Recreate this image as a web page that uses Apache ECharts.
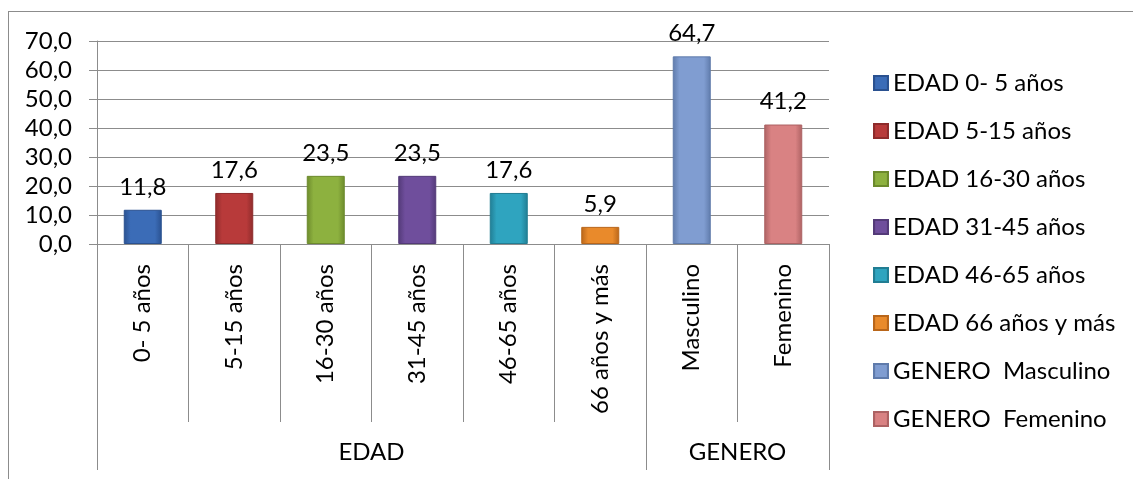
<!DOCTYPE html>
<html>
<head>
<meta charset="utf-8">
<script src="https://cdn.jsdelivr.net/npm/echarts@6/dist/echarts.min.js"></script>
<style>
  html, body { margin: 0; padding: 0; overflow: hidden; background: #fff; }
  #frame { position: absolute; left: 8px; top: 11px; width: 1200px; height: 600px; border: 1px solid #8c8c8c; }
  #main { position: absolute; left: 0; top: 0; width: 1133px; height: 479px; }
</style>
</head>
<body>
<div id="frame"></div>
<div id="main"></div>
<script>
  // categorias del eje y grupos
  var categorias = ['0- 5 años', '5-15 años', '16-30 años', '31-45 años', '46-65 años', '66 años y más', 'Masculino', 'Femenino'];
  var leyenda = ['EDAD 0- 5 años', 'EDAD 5-15 años', 'EDAD 16-30 años', 'EDAD 31-45 años', 'EDAD 46-65 años', 'EDAD 66 años y más', 'GENERO  Masculino', 'GENERO  Femenino'];
  var valores = [11.8, 17.6, 23.5, 23.5, 17.6, 5.9, 64.7, 41.2];
  var grupos = ['EDAD', 'GENERO'];
  var limitesGrupo = [0, 6, 8];   // en unidades de categoria
  var centrosGrupo = [3, 7];
  var colores = ['#3b6cb7', '#b83a3a', '#8db13f', '#6f4e9c', '#2fa4bf', '#e98a2b', '#809dd1', '#d98283'];
  var bordes  = ['#2a5190', '#8e2b2b', '#6c8a2c', '#533a78', '#217d93', '#b9661a', '#5f7bab', '#ad6263'];

  var FONT = 'Lato';
  var myChart = echarts.init(document.getElementById('main'));

  function coma(v) { return v.toFixed(1).replace('.', ','); }

  var series = [];
  for (let i = 0; i < valores.length; i++) {
    let datos = valores.map(function (v, j) { return j === i ? v : '-'; });
    series.push({
      name: leyenda[i],
      type: 'bar',
      stack: 'total',
      barWidth: 38,
      data: datos,
      itemStyle: {
        color: new echarts.graphic.LinearGradient(0, 0, 1, 0, [
          { offset: 0, color: bordes[i] },
          { offset: 0.18, color: colores[i] },
          { offset: 0.82, color: colores[i] },
          { offset: 1, color: bordes[i] }
        ]),
        borderColor: bordes[i],
        borderWidth: 1
      },
      label: {
        show: true,
        position: 'top',
        distance: 11,
        color: '#000',
        fontFamily: FONT,
        fontSize: 24,
        formatter: function (p) { return coma(p.value); }
      }
    });
  }

  var option = {
    animation: false,
    textStyle: { fontFamily: FONT },
    grid: { left: 97, right: 304, top: 41, bottom: 235 },
    legend: {
      orient: 'vertical',
      left: 873,
      top: 70,
      padding: 0,
      itemWidth: 14,
      itemHeight: 14,
      itemGap: 22,
      icon: 'rect',
      textStyle: { fontFamily: FONT, fontSize: 24, lineHeight: 26, color: '#000' },
      data: leyenda
    },
    xAxis: [
      {
        type: 'category',
        data: categorias,
        axisLine: { lineStyle: { color: '#8c8c8c' } },
        axisTick: { show: true, interval: 0, length: 178, lineStyle: { color: '#8c8c8c' } },
        axisLabel: { interval: 0, rotate: 90, margin: 20, color: '#000', fontFamily: FONT, fontSize: 24 }
      },
      {
        type: 'value',
        position: 'bottom',
        min: 0,
        max: 8,
        axisLine: { show: false },
        splitLine: { show: false },
        axisTick: { show: true, length: 226, customValues: limitesGrupo, lineStyle: { color: '#8c8c8c' } },
        axisLabel: {
          customValues: centrosGrupo,
          margin: 196,
          color: '#000',
          fontFamily: FONT,
          fontSize: 24,
          formatter: function (v) { return grupos[centrosGrupo.indexOf(v)]; }
        }
      }
    ],
    yAxis: {
      type: 'value',
      min: 0,
      max: 70,
      interval: 10,
      axisLine: { show: true, lineStyle: { color: '#8c8c8c' } },
      axisTick: { show: true, length: 8, lineStyle: { color: '#8c8c8c' } },
      splitLine: { lineStyle: { color: '#8c8c8c' } },
      axisLabel: { margin: 25, color: '#000', fontFamily: FONT, fontSize: 24, formatter: coma }
    },
    series: series
  };
  myChart.setOption(option);
</script>
</body>
</html>
